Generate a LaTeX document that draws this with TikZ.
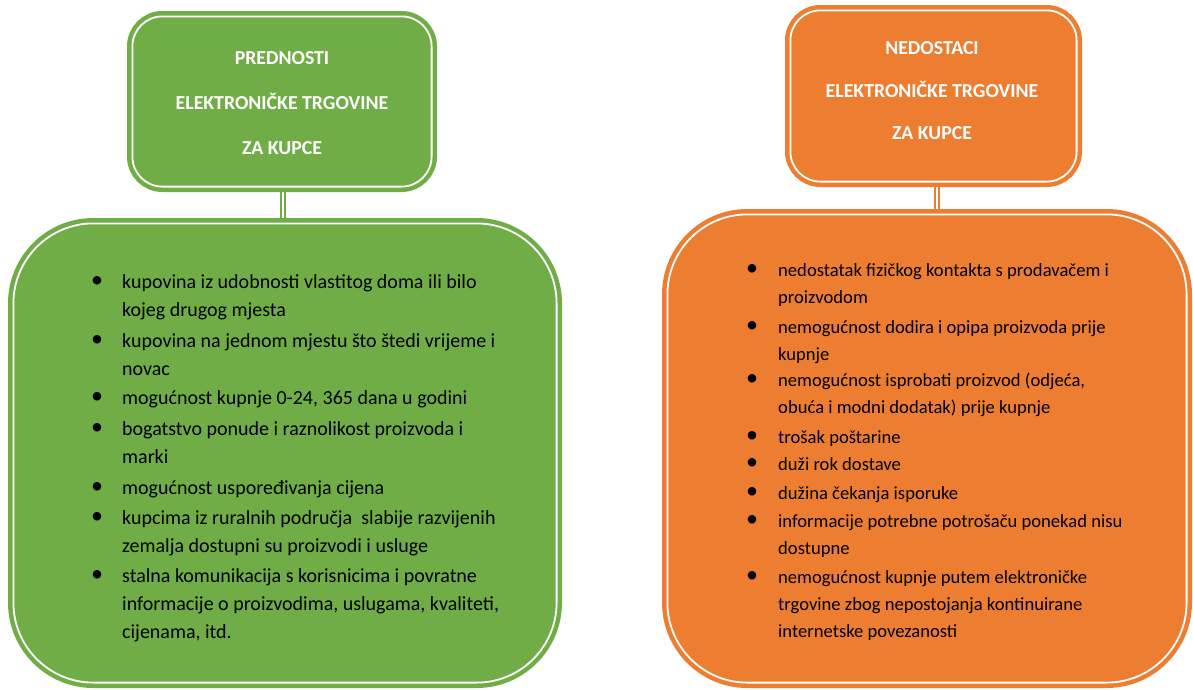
\documentclass[tikz,border=0pt]{standalone}
\usepackage{fontspec}
\setmainfont{Carlito}
\usetikzlibrary{backgrounds}
\definecolor{gr}{HTML}{70AD47}
\definecolor{orn}{HTML}{ED7D31}
\newcommand{\mylines}[1]{\begin{tabular}[t]{@{}l@{}}#1\end{tabular}}
\tikzset{
  boxbase/.style={rectangle, line width=4.5pt, double=white, double distance=1.8pt, inner sep=0pt},
  gbox/.style={boxbase, draw=gr, fill=gr},
  obox/.style={boxbase, draw=orn, fill=orn},
  gconn/.style={draw=gr, line width=2.4pt, double=white, double distance=1.2pt},
  oconn/.style={draw=orn, line width=2.4pt, double=white, double distance=1.2pt},
  gtitle/.style={anchor=base, text=white, font=\fontsize{19.8}{20}\selectfont\bfseries, inner sep=0pt},
  otitle/.style={anchor=base, text=white, font=\fontsize{19.8}{20}\selectfont\bfseries, inner sep=0pt},
  gitem/.style={anchor=base west, inner sep=0pt, font=\fontsize{20}{28}\selectfont},
  oitem/.style={anchor=base west, inner sep=0pt, font=\fontsize{18.6}{27}\selectfont},
  bul/.style={inner sep=0pt, font=\fontsize{24}{24}\selectfont}
}
\begin{document}
\begin{tikzpicture}[x=1pt,y=-1pt]
\useasboundingbox (0,0) rectangle (1193,689);
% green
\node[gbox, rounded corners=30pt, minimum width=299.2pt, minimum height=170.2pt] (gtop) at (282,101.5) {};
\node[gbox, rounded corners=80pt, minimum width=543.2pt, minimum height=459.2pt] (gbig) at (285,453) {};
% orange
\node[obox, rounded corners=30pt, minimum width=286.2pt, minimum height=171.2pt] (otop) at (933.5,96) {};
\node[obox, rounded corners=80pt, minimum width=519.2pt, minimum height=468.2pt] (obig) at (927,448.5) {};
\begin{scope}[on background layer]
\draw[gconn] ([xshift=1pt]gtop.south) -- ([xshift=1pt]gtop.south |- gbig.north);
\draw[oconn] ([xshift=3.5pt]otop.south) -- ([xshift=3.5pt]otop.south |- obig.north);
\end{scope}
% titles
\node[gtitle] (gt1) at (282,64) {PREDNOSTI};
\node[gtitle] (gt2) at (282,109) {ELEKTRONIČKE TRGOVINE};
\node[gtitle] (gt3) at (282,154) {ZA KUPCE};
\node[otitle] (ot1) at (932,54) {NEDOSTACI};
\node[otitle] (ot2) at (932,97) {ELEKTRONIČKE TRGOVINE};
\node[otitle] (ot3) at (932,139) {ZA KUPCE};
% green items
\foreach \y/\t [count=\i] in {
  288/{kupovina iz udobnosti vlastitog doma ili bilo\\kojeg drugog mjesta},
  347/{kupovina na jednom mjestu što štedi vrijeme i\\novac},
  404/{mogućnost kupnje 0-24, 365 dana u godini},
  435/{bogatstvo ponude i raznolikost proizvoda i\\marki},
  494/{mogućnost uspoređivanja cijena},
  524/{kupcima iz ruralnih područja\ \ slabije razvijenih\\zemalja dostupni su proizvodi i usluge},
  582/{stalna komunikacija s korisnicima i povratne\\informacije o proizvodima, uslugama, kvaliteti,\\cijenama, itd.}}{
  \node[bul] (gb\i) at (97,\y-6) {\textbullet};
  \node[gitem] (gi\i) at (122,\y) {\mylines{\t}};
}
% orange items
\foreach \y/\t [count=\i] in {
  276/{nedostatak fizičkog kontakta s prodavačem i\\proizvodom},
  333/{nemogućnost dodira i opipa proizvoda prije\\kupnje},
  386/{nemogućnost isprobati proizvod (odjeća,\\obuća i modni dodatak) prije kupnje},
  443/{trošak poštarine},
  470/{duži rok dostave},
  499/{dužina čekanja isporuke},
  527/{informacije potrebne potrošaču ponekad nisu\\dostupne},
  583/{nemogućnost kupnje putem elektroničke\\trgovine zbog nepostojanja kontinuirane\\internetske povezanosti}}{
  \node[bul] (ob\i) at (752,\y-6) {\textbullet};
  \node[oitem] (oi\i) at (778,\y) {\mylines{\t}};
}
\end{tikzpicture}
\end{document}
